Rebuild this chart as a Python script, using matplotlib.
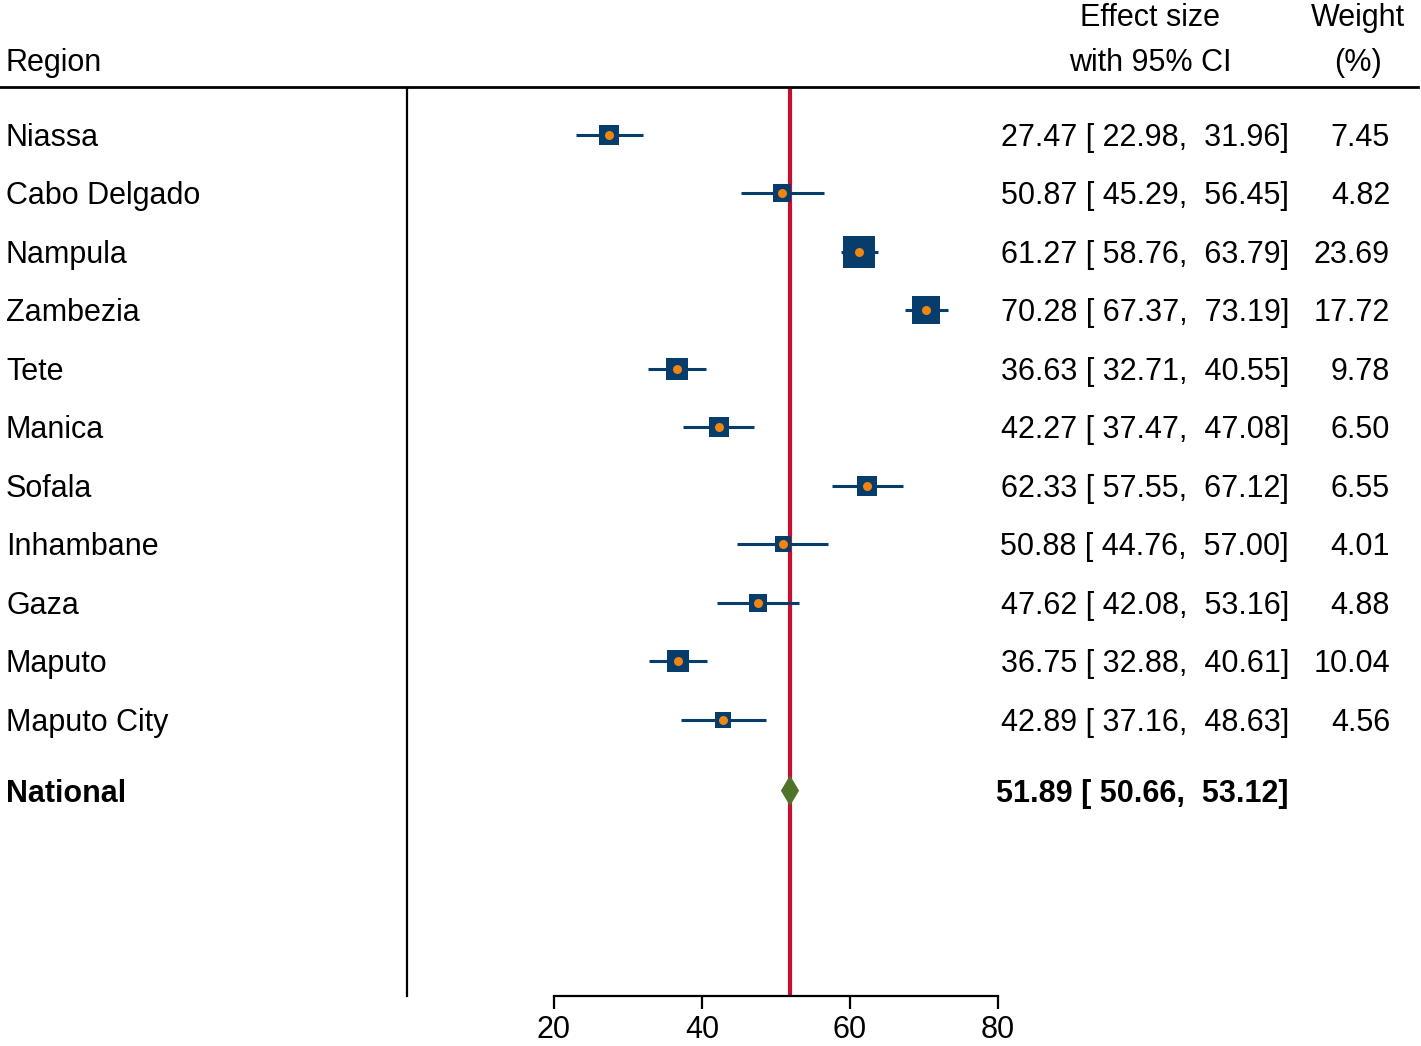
import matplotlib
matplotlib.use("Agg")
import matplotlib.pyplot as plt
from matplotlib import transforms
from matplotlib.lines import Line2D
import numpy as np

# data
regions = ["Niassa", "Cabo Delgado", "Nampula", "Zambezia", "Tete", "Manica",
           "Sofala", "Inhambane", "Gaza", "Maputo", "Maputo City"]
es = [27.47, 50.87, 61.27, 70.28, 36.63, 42.27, 62.33, 50.88, 47.62, 36.75, 42.89]
lo = [22.98, 45.29, 58.76, 67.37, 32.71, 37.47, 57.55, 44.76, 42.08, 32.88, 37.16]
hi = [31.96, 56.45, 63.79, 73.19, 40.55, 47.08, 67.12, 57.00, 53.16, 40.61, 48.63]
weight = [7.45, 4.82, 23.69, 17.72, 9.78, 6.50, 6.55, 4.01, 4.88, 10.04, 4.56]
nat_label = "National"
nat_es, nat_lo, nat_hi = 51.89, 50.66, 53.12
xticks = [20, 40, 60, 80]

plt.rcParams['font.family'] = ['Liberation Sans', 'DejaVu Sans']
FS = 22

W, H = 1421, 1046
fig = plt.figure(figsize=(W / 100, H / 100), dpi=100)

# axes: left edge = vertical black line, bottom = x axis
ax_l, ax_r, ax_t, ax_b = 407, 998, 88, 996
ax = fig.add_axes([ax_l / W, 1 - ax_b / H, (ax_r - ax_l) / W, (ax_b - ax_t) / H])
ax.set_xlim(20 - (554 - 407) / 7.4, 80)

rows = np.arange(1, len(regions) + 1)
nat_row = len(regions) + 1.21
ax.set_ylim(15.72, 0.2)

navy = "#063d6c"
orange = "#f0850f"
red = "#c5102f"
green = "#4f7328"

ax.axvline(nat_es, color=red, lw=3, zorder=1)

px2pt = 72 / 100
for r, e, l, h, w in zip(rows, es, lo, hi, weight):
    ax.plot([l, h], [r, r], color=navy, lw=2.2, zorder=2, solid_capstyle="butt")
    side = (4.7 + 5.61 * np.sqrt(w)) * px2pt
    ax.plot(e, r, marker="s", ms=side, color=navy, mec=navy, mew=0, zorder=3)
    ax.plot(e, r, marker="o", ms=9 * px2pt, color=orange, mew=0, zorder=4)

# pooled diamond
dh = 0.26
ax.fill([nat_lo, nat_es, nat_hi, nat_es], [nat_row, nat_row - dh, nat_row, nat_row + dh],
        color=green, zorder=4, lw=0)

for s in ["top", "right"]:
    ax.spines[s].set_visible(False)
ax.spines["left"].set_linewidth(1.6)
ax.spines["bottom"].set_linewidth(1.6)
ax.spines["bottom"].set_bounds(xticks[0], xticks[-1])
ax.set_yticks([])
ax.set_xticks(xticks)
ax.tick_params(axis="x", direction="out", length=9, width=1.6, labelsize=FS, pad=5)

# text columns, baseline ~11 px under the row centre
tr = transforms.blended_transform_factory(fig.transFigure, ax.transData)
tr = tr + transforms.ScaledTranslation(0, -11 / 100, fig.dpi_scale_trans)
for r, name, e, l, h, w in zip(rows, regions, es, lo, hi, weight):
    ax.text(6 / W, r, name, transform=tr, fontsize=FS, ha="left", va="baseline")
    ax.text(1289 / W, r, f"{e:.2f} [{l:6.2f}, {h:6.2f}]", transform=tr,
            fontsize=FS, ha="right", va="baseline")
    ax.text(1390 / W, r, f"{w:.2f}", transform=tr, fontsize=FS, ha="right", va="baseline")
ax.text(6 / W, nat_row, nat_label, transform=tr, fontsize=FS, ha="left", va="baseline",
        fontweight="bold")
ax.text(1289 / W, nat_row, f"{nat_es:.2f} [{nat_lo:6.2f}, {nat_hi:6.2f}]", transform=tr,
        fontsize=FS, ha="right", va="baseline", fontweight="bold")

# header
fig.text(6 / W, 1 - 71 / H, "Region", fontsize=FS, ha="left", va="baseline")
fig.text(1150 / W, 1 - 26 / H, "Effect size", fontsize=FS, ha="center", va="baseline")
fig.text(1150 / W, 1 - 71 / H, "with 95% CI", fontsize=FS, ha="center", va="baseline")
fig.text(1358 / W, 1 - 26 / H, "Weight", fontsize=FS, ha="center", va="baseline")
fig.text(1358 / W, 1 - 71 / H, "(%)", fontsize=FS, ha="center", va="baseline")
fig.add_artist(Line2D([0, 1418 / W], [1 - 87 / H, 1 - 87 / H], color="black", lw=2))

fig.savefig("out.png", dpi=100, facecolor="white")
